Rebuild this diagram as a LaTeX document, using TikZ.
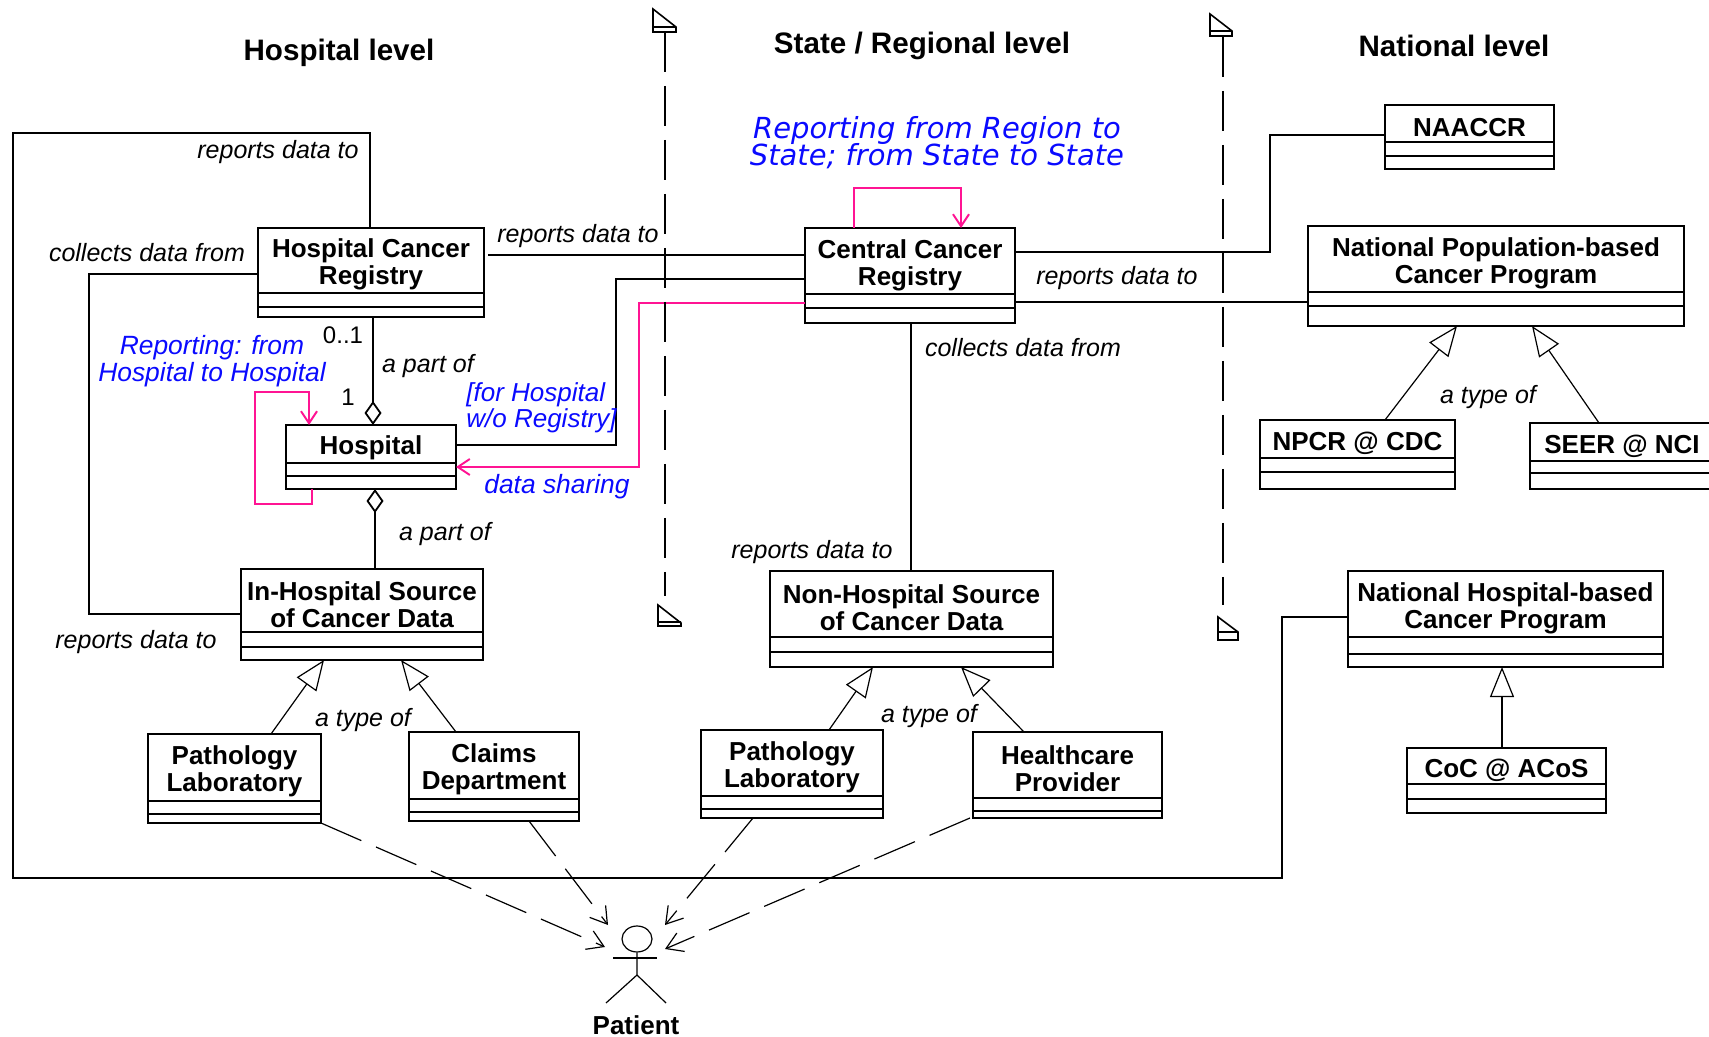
\documentclass[tikz,border=0pt]{standalone}
\usepackage{fontspec}
\setmainfont{Liberation Sans}
\newfontfamily\regionfont{DejaVu Sans}
\usepackage{tikz}
\usetikzlibrary{arrows.meta, shapes.geometric}
\definecolor{noteblue}{RGB}{10,10,255}
\definecolor{linkpink}{RGB}{255,20,147}
\tikzset{umlclass/.style = {shape=rectangle,draw,inner sep=0pt,outer sep=0pt,line width=0.9pt}}
\tikzset{umlname/.style = {align=center,inner sep=0pt,font=\fontsize{13}{13.5}\selectfont\bfseries}}
\tikzset{level/.style = {inner sep=0pt,font=\fontsize{14.8}{15}\selectfont\bfseries}}
\tikzset{role/.style = {inner sep=0pt,font=\fontsize{12.5}{13}\selectfont\itshape}}
\tikzset{note/.style = {inner sep=0pt,font=\fontsize{13.2}{13.2}\selectfont\itshape,align=center,text=noteblue}}
\tikzset{assoc/.style = {line width=0.9pt}}
\tikzset{share/.style = {line width=1pt,draw=linkpink,-{Straight Barb[length=6pt,width=8pt]}}}
\tikzset{isa/.style = {line width=0.6pt,-{Triangle[open,length=15pt,width=12pt]}}}
\tikzset{partof/.style = {line width=0.9pt,{Diamond[open,length=12pt,width=8.5pt]}-}}
\tikzset{depends/.style = {line width=0.6pt,dash pattern=on 22pt off 8pt,-{Straight Barb[length=8pt,width=10pt]}}}
\tikzset{boundary/.style = {line width=0.8pt,dash pattern=on 20pt off 7pt}}
\tikzset{flag/.style = {line width=0.8pt}}
\newcommand{\classbox}[8]{%
    \node[umlclass, minimum width={(#4-#2)*0.5pt}, minimum height={(#7-#3)*0.5pt}] (#1) at ({(#2+#4)/2},{(#3+#7)/2}) {};
    \draw[line width=0.9pt] (#1.west |- 0,#5) -- (#1.east |- 0,#5);
    \draw[line width=0.9pt] (#1.west |- 0,#6) -- (#1.east |- 0,#6);
    \node[umlname] (#1name) at ({(#2+#4)/2},{(#3+#5)/2+4}) {#8};
}

\begin{document}
\begin{tikzpicture}[x=0.5pt,y=-0.5pt]
                \useasboundingbox (0,0) rectangle (1709,1037);
                \node[level] (hlevel) at (339,53) {Hospital level};
                \node[level] (slevel) at (922,46) {State / Regional level};
                \node[level] (nlevel) at (1454,46) {National level};
                % hospital level
                \classbox{hcr}{258}{228}{484}{293}{307}{317}{Hospital Cancer\\Registry}
                \classbox{hosp}{286}{425}{456}{463}{476}{489}{Hospital}
                \classbox{ihs}{241}{569}{483}{632}{647}{660}{In-Hospital Source\\of Cancer Data}
                \classbox{patha}{148}{734}{321}{801}{814}{823}{Pathology\\Laboratory}
                \classbox{claims}{409}{732}{579}{799}{812}{821}{Claims\\Department}
                % state level
                \classbox{ccr}{805}{228}{1015}{294}{308}{323}{Central Cancer\\Registry}
                \classbox{nhs}{770}{571}{1053}{637}{652}{667}{Non-Hospital Source\\of Cancer Data}
                \classbox{pathb}{701}{730}{883}{796}{809}{818}{Pathology\\Laboratory}
                \classbox{care}{973}{732}{1162}{798}{811}{818}{Healthcare\\Provider}
                % national level
                \classbox{naaccr}{1385}{105}{1554}{142}{156}{169}{NAACCR}
                \classbox{npop}{1308}{226}{1684}{292}{306}{326}{National Population-based\\Cancer Program}
                \classbox{npcr}{1260}{420}{1455}{458}{472}{489}{NPCR @ CDC}
                \classbox{seer}{1530}{423}{1714}{461}{473}{489}{SEER @ NCI}
                \classbox{nhb}{1348}{571}{1663}{637}{654}{667}{National Hospital-based\\Cancer Program}
                \classbox{coc}{1407}{748}{1606}{784}{799}{813}{CoC @ ACoS}
                % patient
                \node[shape=ellipse,draw,line width=0.6pt,inner sep=0pt,minimum width=15pt,minimum height=13pt] (patient) at (637,939) {};
                \coordinate (neck) at (637,958);
                \coordinate (hip) at (637,975);
                \draw[line width=0.6pt] (patient) -- (hip) -- (606,1003);
                \draw[line width=0.6pt] (hip) -- (666,1003);
                \draw[line width=0.8pt] (613,958) -- (neck) -- (657,958);
                \node[umlname] (patientname) at (636,1025) {Patient};
                \coordinate (pleft) at (605,947);
                \coordinate (pupleft) at (608,925);
                \coordinate (pupright) at (665,925);
                \coordinate (pright) at (665,949);
                \draw[depends] (patha.south east) -- (pleft);
                \draw[depends] (529,0 |- claims.south) -- (pupleft);
                \draw[depends] (753,0 |- pathb.south) -- (pupright);
                \draw[depends] (970,0 |- care.south) -- (pright);
                % associations
                \draw[assoc] (370,0 |- hcr.north) |- (13,133) |- (1282,878) |- (nhb.west |- 0,617);
                \draw[assoc] (hcr.west |- 0,274) -| (89,614) -- (ihs.west |- 0,614);
                \draw[assoc] (488,255) -- (ccr.west |- 0,255);
                \draw[assoc] (hosp.east |- 0,445) -| (616,279) -- (ccr.west |- 0,279);
                \draw[assoc] (ccr.east |- 0,252) -| (1270,135) -- (naaccr.west |- 0,135);
                \draw[assoc] (ccr.east |- 0,302) -- (npop.west |- 0,302);
                \draw[assoc] (911,0 |- ccr.south) -- (911,0 |- nhs.north);
                \draw[partof] (373,0 |- hosp.north) -- (373,0 |- hcr.south);
                \draw[partof] (375,0 |- hosp.south) -- (375,0 |- ihs.north);
                % generalisations
                \draw[isa] (271,0 |- patha.north) -- (324,0 |- ihs.south);
                \draw[isa] (456,0 |- claims.north) -- (401,0 |- ihs.south);
                \draw[isa] (829,0 |- pathb.north) -- (873,0 |- nhs.south);
                \draw[isa] (1024,0 |- care.north) -- (961,0 |- nhs.south);
                \draw[isa] (1385,0 |- npcr.north) -- (1457,0 |- npop.south);
                \draw[isa] (1599,0 |- seer.north) -- (1532,0 |- npop.south);
                \draw[isa] (1502,0 |- coc.north) -- (1502,0 |- nhb.south);
                % data sharing
                \draw[share] (ccr.west |- 0,303) -| (639,467) -- (hosp.east |- 0,467);
                \draw[share] (854,0 |- ccr.north) |- (961,188) -- (961,0 |- ccr.north);
                \draw[share] (312,0 |- hosp.south) |- (255,504) |- (309,392) -- (309,0 |- hosp.north);
                % level boundaries
                \coordinate (bounda) at (665,32);
                \coordinate (boundb) at (1223,37);
                \draw[boundary] (bounda) -- (665,596);
                \draw[boundary] (boundb) -- (1223,605);
                \draw[flag] (653,9) -- (676,27) -- (676,32) -- (653,32) -- cycle (653,27) -- (676,27);
                \draw[flag] (1210,14) -- (1232,31) -- (1232,36) -- (1210,36) -- cycle (1210,31) -- (1232,31);
                \draw[flag] (658,605) -- (681,623) -- (681,626) -- (658,626) -- cycle (658,622) -- (681,622);
                \draw[flag] (1218,617) -- (1238,632) -- (1238,640) -- (1218,640) -- cycle (1218,632) -- (1238,632);
                % labels
                \node[role] (rdta) at (278,152) {reports data to};
                \node[role] (cdfa) at (147,253) {collects data from};
                \node[role] (rdtb) at (578,236) {reports data to};
                \node[role] (rdtc) at (1117,278) {reports data to};
                \node[role] (rdtd) at (812,552) {reports data to};
                \node[role] (cdfb) at (1023,348) {collects data from};
                \node[role] (rdte) at (136,642) {reports data to};
                \node[role] (pofa) at (428,366) {a part of};
                \node[role] (pofb) at (445,534) {a part of};
                \node[role] (tofa) at (363,720) {a type of};
                \node[role] (tofb) at (929,716) {a type of};
                \node[role] (tofc) at (1488,397) {a type of};
                \node[inner sep=0pt,font=\fontsize{12}{13}\selectfont] (mza) at (343,335) {0..1};
                \node[inner sep=0pt,font=\fontsize{12}{13}\selectfont] (mzb) at (348,397) {1};
                \node[note,font=\regionfont\fontsize{14.5}{13.2}\selectfont\itshape] (nregion) at (937,143) {Reporting from Region to\\[-1.5pt]State; from State to State};
                \node[note] (nhosp) at (212,361) {Reporting: from\\Hospital to Hospital};
                \node[note,font=\fontsize{13}{13.2}\selectfont\itshape,align=left,anchor=west] (nwo) at (466,408) {[for Hospital\\w/o Registry]};
                \node[note] (nshare) at (557,487) {data sharing};
            \end{tikzpicture}
\end{document}
